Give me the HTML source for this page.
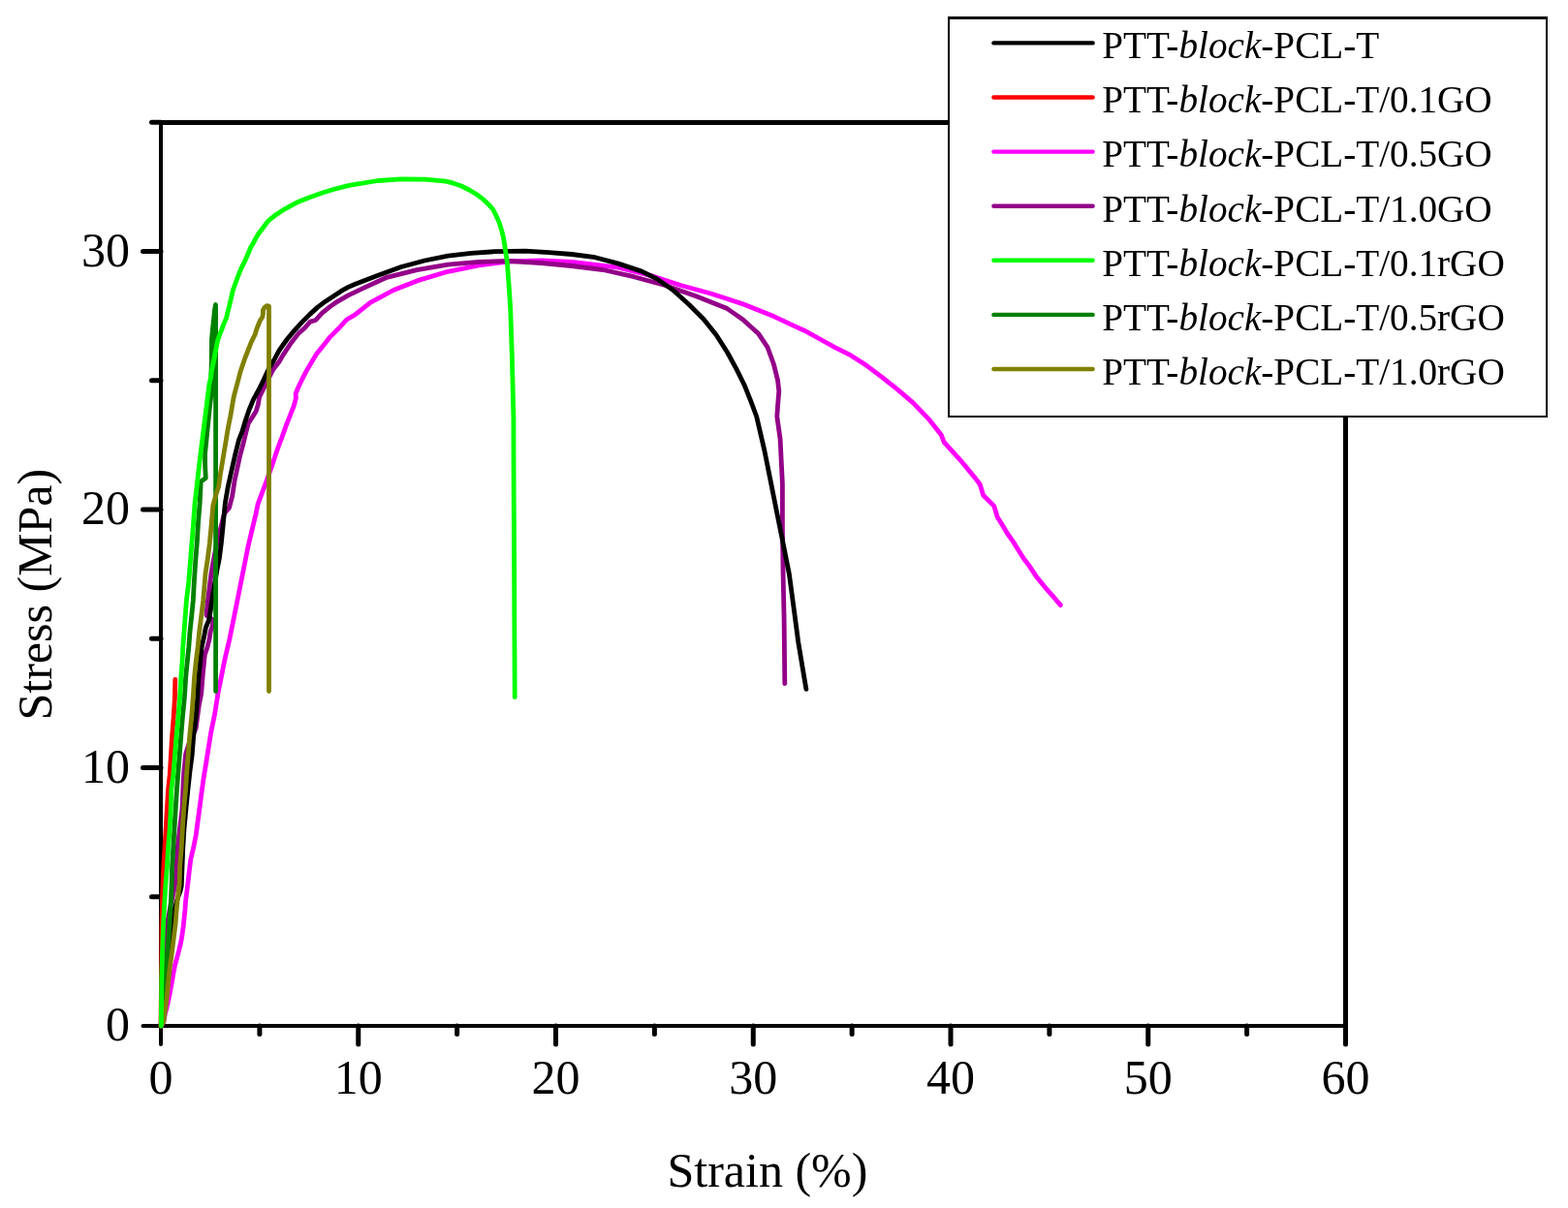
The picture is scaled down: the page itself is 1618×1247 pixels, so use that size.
<!DOCTYPE html>
<html><head><meta charset="utf-8"><title>Stress-strain curves</title>
<style>
html,body{margin:0;padding:0;background:#fff;}
svg{display:block;}
text{font-family:"Liberation Serif","Times New Roman",serif;fill:#000;}
</style></head>
<body>
<svg width="1618" height="1247" viewBox="0 0 1618 1247">
<rect x="0" y="0" width="1618" height="1247" fill="#fff"/>
<g stroke="#000" stroke-width="4.4" stroke-linecap="butt" fill="none">
<line x1="166" y1="124" x2="166" y2="1061" stroke-width="4"/>
<line x1="1388.5" y1="124" x2="1388.5" y2="1061" stroke-width="5"/>
<line x1="164" y1="126.5" x2="1391" y2="126.5" stroke-width="5"/>
<line x1="164" y1="1059" x2="1391" y2="1059" stroke-width="4"/>
<line x1="147.5" y1="1059.00" x2="166" y2="1059.00" stroke-width="4" stroke-linecap="round"/><line x1="147.5" y1="792.50" x2="166" y2="792.50" stroke-width="5" stroke-linecap="round"/><line x1="147.5" y1="526.00" x2="166" y2="526.00" stroke-width="5" stroke-linecap="round"/><line x1="147.5" y1="259.50" x2="166" y2="259.50" stroke-width="5" stroke-linecap="round"/><line x1="156.5" y1="925.75" x2="166" y2="925.75" stroke-width="5" stroke-linecap="round"/><line x1="156.5" y1="659.25" x2="166" y2="659.25" stroke-width="5" stroke-linecap="round"/><line x1="156.5" y1="392.75" x2="166" y2="392.75" stroke-width="5" stroke-linecap="round"/><line x1="156.5" y1="126.25" x2="166" y2="126.25" stroke-width="5" stroke-linecap="round"/><line x1="166.00" y1="1059" x2="166.00" y2="1078" stroke-width="4" stroke-linecap="round"/><line x1="369.75" y1="1059" x2="369.75" y2="1078" stroke-width="5" stroke-linecap="round"/><line x1="573.50" y1="1059" x2="573.50" y2="1078" stroke-width="5" stroke-linecap="round"/><line x1="777.25" y1="1059" x2="777.25" y2="1078" stroke-width="5" stroke-linecap="round"/><line x1="981.00" y1="1059" x2="981.00" y2="1078" stroke-width="5" stroke-linecap="round"/><line x1="1184.75" y1="1059" x2="1184.75" y2="1078" stroke-width="5" stroke-linecap="round"/><line x1="1388.50" y1="1059" x2="1388.50" y2="1078" stroke-width="5" stroke-linecap="round"/><line x1="267.88" y1="1059" x2="267.88" y2="1067.5" stroke-width="5" stroke-linecap="round"/><line x1="471.62" y1="1059" x2="471.62" y2="1067.5" stroke-width="5" stroke-linecap="round"/><line x1="675.38" y1="1059" x2="675.38" y2="1067.5" stroke-width="5" stroke-linecap="round"/><line x1="879.12" y1="1059" x2="879.12" y2="1067.5" stroke-width="5" stroke-linecap="round"/><line x1="1082.88" y1="1059" x2="1082.88" y2="1067.5" stroke-width="5" stroke-linecap="round"/><line x1="1286.62" y1="1059" x2="1286.62" y2="1067.5" stroke-width="5" stroke-linecap="round"/>
</g>
<g fill="none" stroke-linejoin="round" stroke-linecap="round">
<polyline points="166.5,1059.0 168.9,1054.7 170.2,1047.0 171.7,1041.7 174.1,1031.3 176.1,1020.8 178.2,1009.0 180.3,997.3 182.6,988.9 184.8,980.5 186.8,972.1 188.2,963.7 189.3,955.2 190.2,946.8 191.0,938.4 191.6,930.0 193.5,915.0 195.2,900.0 196.8,887.0 199.8,874.2 202.2,862.1 203.8,850.1 205.4,838.1 207.0,826.1 208.6,814.0 210.3,802.0 212.3,790.0 214.5,776.2 217.7,756.2 221.8,736.0 224.9,716.1 228.9,696.0 232.1,680.0 236.7,660.5 241.6,636.5 248.0,604.4 256.0,564.2 264.0,530.5 266.2,520.1 275.2,496.0 282.0,476.9 284.0,470.5 286.2,464.1 288.5,457.7 291.0,451.3 293.3,444.9 295.5,438.5 298.1,432.1 300.6,425.6 303.2,419.2 305.4,410.9 305.1,406.4 307.7,400.0 311.7,391.7 316.2,382.9 321.4,374.1 326.7,365.3 333.8,356.5 340.8,347.6 349.7,338.8 357.6,330.0 366.0,325.2 382.1,312.3 406.1,299.5 430.2,289.9 462.3,280.3 494.3,273.9 526.4,269.8 558.5,269.0 590.0,270.5 638.1,276.1 670.2,284.1 702.3,294.5 734.3,303.3 766.4,313.8 798.5,326.6 822.5,337.8 830.0,341.2 846.0,350.0 862.1,358.9 878.1,366.9 894.2,377.3 910.2,389.3 926.2,402.2 942.3,415.8 958.3,432.6 971.1,448.7 974.3,456.7 990.4,474.3 1006.4,493.6 1011.2,500.0 1014.6,511.2 1020.2,516.8 1025.8,522.4 1029.2,533.7 1034.8,542.7 1039.3,550.5 1044.9,558.4 1050.5,567.3 1056.1,576.3 1062.9,585.3 1069.6,595.4 1078.6,606.6 1087.6,616.7 1094.3,624.6" stroke="#FF00FF" stroke-width="4.8"/><polyline points="166.0,1059.0 168.0,1035.0 170.4,1000.0 171.6,966.0 172.4,954.0 176.0,935.0 180.4,915.0 182.0,895.0 183.2,875.0 185.6,855.0 188.0,835.0 188.8,816.0 189.6,800.0 191.7,778.0 196.0,765.0 202.1,752.0 205.3,728.0 207.7,716.0 209.3,696.0 211.3,676.0 214.0,668.0 216.0,660.0 217.2,652.2 219.6,645.0 219.6,640.0 213.0,635.0 214.0,624.0 216.0,608.0 218.0,592.0 220.0,580.0 224.0,560.0 228.0,544.0 231.5,530.0 236.5,524.1 239.7,512.0 242.1,496.0 245.6,480.0 247.4,471.5 250.9,458.3 253.5,447.7 256.2,437.1 259.7,431.8 264.1,424.7 266.3,417.7 267.7,409.7 272.1,400.9 277.4,390.3 281.8,381.5 288.0,373.5 292.0,366.6 300.0,354.5 308.1,344.1 314.5,338.5 320.1,332.1 325.7,330.5 332.1,323.3 340.1,316.9 348.1,311.3 359.4,304.8 374.0,297.9 398.1,286.7 430.2,278.7 462.3,273.1 494.3,270.3 526.4,269.5 558.5,271.5 590.0,274.5 622.1,278.5 654.1,285.7 686.2,294.5 718.3,305.7 750.4,318.6 766.4,329.8 782.4,344.2 792.1,358.7 798.5,376.3 802.5,392.3 803.8,403.6 802.5,419.6 801.8,430.0 805.1,453.3 807.4,499.8 807.4,546.3 808.1,592.8 809.1,639.3 809.8,705.6" stroke="#930088" stroke-width="4.8"/><polyline points="166.0,1059.0 168.5,1045.0 170.5,1025.0 172.5,1005.0 174.3,990.0 175.3,977.7 177.3,962.5 178.4,955.0 179.5,941.0 183.0,928.0 186.0,920.0 187.2,915.0 188.0,895.0 188.8,875.0 190.0,855.0 191.9,835.0 194.0,814.0 196.0,796.0 198.1,780.0 199.7,760.0 202.1,740.0 203.7,720.0 204.9,700.0 206.5,684.0 208.1,668.0 210.8,656.0 212.3,648.0 215.6,640.0 217.6,628.0 219.2,616.0 222.0,600.0 224.0,588.0 226.4,576.0 228.4,560.0 230.0,544.0 231.3,530.0 232.5,518.3 235.3,502.2 238.5,487.8 242.5,470.1 246.5,454.0 250.0,445.0 253.5,433.5 257.1,423.0 261.5,412.4 266.8,402.7 272.1,392.1 277.4,380.6 281.6,373.8 288.0,361.8 296.0,350.5 304.0,340.9 312.1,332.1 320.1,324.1 328.1,316.9 336.1,310.9 344.1,305.7 352.1,300.4 359.4,296.4 366.0,293.5 390.1,284.3 414.1,275.5 438.2,269.0 462.3,264.2 486.3,261.3 510.4,259.7 542.4,259.1 566.5,260.7 590.0,262.5 614.1,265.7 638.1,272.1 662.2,280.1 678.2,288.1 694.2,299.3 710.3,313.8 726.3,329.8 739.1,345.8 750.4,363.5 760.0,381.1 768.0,397.2 774.4,413.2 780.7,430.0 788.8,464.9 795.8,499.8 802.8,534.7 809.8,569.5 814.4,592.8 819.1,627.7 823.7,662.6 829.5,697.4 831.9,711.4" stroke="#000000" stroke-width="4.8"/><polyline points="166.0,1059.0 166.8,986.0 167.0,958.0 167.4,934.0 168.0,915.0 168.8,895.0 170.0,875.0 171.2,855.0 172.4,835.0 173.6,815.0 175.2,800.0 176.4,780.0 177.6,760.0 179.2,740.0 180.4,720.0 180.8,701.5" stroke="#FF0000" stroke-width="4.8"/><polyline points="166.0,1059.0 168.9,1047.0 169.9,1031.0 170.4,1016.0 171.2,1000.0 173.0,980.5 174.2,963.7 175.3,946.8 176.4,930.0 177.2,910.0 177.6,895.0 178.8,875.0 180.0,855.0 181.2,835.0 182.4,816.0 183.6,800.0 185.2,780.0 186.8,760.0 188.4,740.0 190.4,720.0 191.6,700.0 193.2,684.0 194.8,668.0 196.0,652.0 197.7,636.0 199.3,620.0 200.4,600.0 201.7,580.0 203.3,560.1 204.5,540.0 206.1,520.0 207.3,497.0 212.3,493.5 211.6,480.0 211.6,468.0 213.2,452.0 214.8,436.0 216.4,420.0 218.4,404.0 217.8,390.0 218.2,378.0 218.5,350.0 219.4,340.0 220.5,330.0 221.5,320.0 222.5,314.5 222.6,318.0 222.6,713.5" stroke="#008000" stroke-width="4.8"/><polyline points="166.0,1059.0 168.9,1054.7 170.2,1044.0 172.0,1031.0 173.5,1016.0 175.1,1000.0 177.0,986.1 178.4,974.9 179.8,963.7 181.2,952.4 182.0,941.2 183.1,930.0 185.2,912.0 185.6,895.0 187.2,875.0 188.4,855.0 189.7,835.0 191.5,816.0 192.5,800.0 194.1,780.0 195.7,760.0 197.7,740.0 199.3,720.0 200.5,700.0 202.1,684.0 204.1,668.0 205.7,652.0 207.7,636.0 209.7,620.0 212.0,592.1 214.4,576.2 216.4,560.2 218.3,540.0 219.8,522.0 222.5,512.0 225.6,502.2 227.3,490.2 229.3,478.2 231.3,466.1 233.3,454.1 235.3,442.0 237.7,430.0 241.2,409.7 244.7,396.5 248.2,383.2 252.7,370.0 259.4,352.9 263.3,345.0 264.6,340.3 266.5,335.5 268.5,330.7 270.7,327.5 271.4,324.2 271.4,320.4 273.0,317.2 275.5,315.6 277.5,316.0 277.5,713.5" stroke="#808000" stroke-width="4.8"/><polyline points="166.3,1059.0 166.6,1030.0 166.8,1010.0 167.6,982.0 168.4,958.0 169.6,934.0 171.0,912.0 172.4,895.0 173.6,875.0 175.2,855.0 176.2,835.0 176.8,815.0 178.8,800.0 180.4,780.0 182.0,760.0 184.0,740.0 185.6,720.0 186.8,700.0 188.0,684.0 188.8,668.0 190.0,652.0 191.2,636.0 192.4,620.0 194.8,600.0 196.4,580.0 198.0,560.0 199.6,540.0 201.0,520.0 203.3,500.0 205.6,480.0 208.0,460.0 210.0,444.0 212.0,428.0 214.0,412.0 216.0,396.0 217.5,390.0 218.1,384.5 219.8,376.1 221.5,367.7 223.1,359.3 224.8,350.8 226.8,345.2 229.0,339.6 231.0,334.0 233.5,328.4 235.5,320.0 236.4,316.7 238.4,308.3 240.3,299.9 242.3,294.3 244.3,288.7 246.5,283.0 248.8,277.4 251.6,271.8 254.7,265.0 256.7,260.3 258.6,255.5 261.5,250.7 264.0,245.9 266.9,241.0 269.8,237.2 273.0,233.0 276.2,228.8 280.0,225.3 285.0,221.5 294.7,215.3 306.2,209.1 319.4,203.8 332.7,199.0 345.9,195.0 358.3,191.9 366.0,190.3 390.1,186.5 414.1,184.9 438.2,185.2 460.0,187.2 468.0,189.2 476.0,192.0 484.0,196.0 492.1,200.8 498.5,205.7 504.1,210.9 508.9,216.5 512.1,222.9 515.3,230.1 517.7,238.1 519.7,246.1 520.9,254.2 522.1,262.2 523.3,270.2 525.1,294.1 526.7,318.2 527.5,342.3 528.3,366.4 529.1,398.5 529.9,430.6 530.0,470.0 530.6,590.0 531.2,719.7" stroke="#00FF00" stroke-width="4.8"/>
</g>

<g font-size="50">
<text x="134" y="1074.0" text-anchor="end">0</text><text x="134" y="807.5" text-anchor="end">10</text><text x="134" y="541.0" text-anchor="end">20</text><text x="134" y="274.5" text-anchor="end">30</text>
<text x="166.00" y="1128.5" text-anchor="middle">0</text><text x="369.75" y="1128.5" text-anchor="middle">10</text><text x="573.50" y="1128.5" text-anchor="middle">20</text><text x="777.25" y="1128.5" text-anchor="middle">30</text><text x="981.00" y="1128.5" text-anchor="middle">40</text><text x="1184.75" y="1128.5" text-anchor="middle">50</text><text x="1388.50" y="1128.5" text-anchor="middle">60</text>
<text x="688.5" y="1225">Strain (%)</text>
<text transform="translate(53,743.5) rotate(-90)">Stress (MPa)</text>
</g>
<rect x="978" y="17" width="619" height="414" fill="#fff"/>
<g stroke="#000">
<line x1="978" y1="18.5" x2="1597" y2="18.5" stroke-width="3"/>
<line x1="978" y1="430" x2="1597" y2="430" stroke-width="2"/>
<line x1="979" y1="17" x2="979" y2="431" stroke-width="2"/>
<line x1="1596" y1="17" x2="1596" y2="431" stroke-width="2"/>
</g>
<g font-size="39.2">
<line x1="1025.4" y1="44.4" x2="1127.6" y2="44.4" stroke="#000000" stroke-width="4.4" stroke-linecap="round"/><text x="1137.3" y="60.0">PTT-<tspan font-style="italic">block</tspan>-PCL-T</text><line x1="1025.4" y1="100.5" x2="1127.6" y2="100.5" stroke="#FF0000" stroke-width="4.4" stroke-linecap="round"/><text x="1137.3" y="116.2">PTT-<tspan font-style="italic">block</tspan>-PCL-T/0.1GO</text><line x1="1025.4" y1="156.6" x2="1127.6" y2="156.6" stroke="#FF00FF" stroke-width="4.4" stroke-linecap="round"/><text x="1137.3" y="172.3">PTT-<tspan font-style="italic">block</tspan>-PCL-T/0.5GO</text><line x1="1025.4" y1="212.7" x2="1127.6" y2="212.7" stroke="#930088" stroke-width="4.4" stroke-linecap="round"/><text x="1137.3" y="228.5">PTT-<tspan font-style="italic">block</tspan>-PCL-T/1.0GO</text><line x1="1025.4" y1="268.8" x2="1127.6" y2="268.8" stroke="#00FF00" stroke-width="4.4" stroke-linecap="round"/><text x="1137.3" y="284.7">PTT-<tspan font-style="italic">block</tspan>-PCL-T/0.1rGO</text><line x1="1025.4" y1="324.9" x2="1127.6" y2="324.9" stroke="#008000" stroke-width="4.4" stroke-linecap="round"/><text x="1137.3" y="340.9">PTT-<tspan font-style="italic">block</tspan>-PCL-T/0.5rGO</text><line x1="1025.4" y1="381.0" x2="1127.6" y2="381.0" stroke="#808000" stroke-width="4.4" stroke-linecap="round"/><text x="1137.3" y="397.0">PTT-<tspan font-style="italic">block</tspan>-PCL-T/1.0rGO</text>
</g>
</svg>
</body></html>
